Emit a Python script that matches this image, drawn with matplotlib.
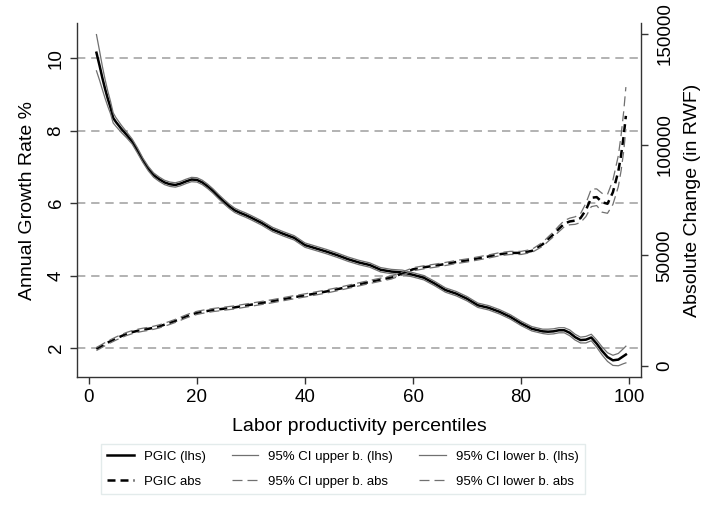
import matplotlib
matplotlib.use("Agg")
import matplotlib.pyplot as plt
from matplotlib.lines import Line2D

plt.rcParams['font.family'] = ['Liberation Sans', 'DejaVu Sans']

# percentiles
pct = [1.4, 2, 2.5, 3, 3.5, 4, 4.5, 5, 6, 7, 8, 9, 10,
       11, 12, 13, 14, 15, 16, 17, 18, 19, 20, 21, 22, 23, 24, 25, 26, 27, 28, 29, 30,
       32, 34, 36, 38, 40, 42, 44, 46, 48, 50, 52, 54, 56, 58, 60, 62, 64, 66, 68, 70,
       72, 74, 76, 78, 80, 82,
       84, 85, 86, 87, 88, 89, 90, 91, 92, 93, 94, 95, 96, 97, 98, 98.5, 99, 99.4]

# growth rate (lhs, %)
pgic = [10.15, 9.78, 9.45, 9.15, 8.88, 8.64, 8.35, 8.24, 8.05, 7.88, 7.70, 7.45, 7.18,
        6.95, 6.77, 6.66, 6.57, 6.52, 6.50, 6.54, 6.60, 6.65, 6.64, 6.57, 6.46, 6.33, 6.18, 6.04, 5.91, 5.80, 5.73, 5.67, 5.60,
        5.45, 5.27, 5.15, 5.04, 4.84, 4.75, 4.66, 4.56, 4.45, 4.36, 4.29, 4.16, 4.11, 4.09, 4.02, 3.94, 3.78, 3.60, 3.50, 3.36,
        3.18, 3.11, 3.00, 2.86, 2.68, 2.53,
        2.46, 2.45, 2.46, 2.49, 2.49, 2.42, 2.30, 2.22, 2.23, 2.29, 2.12, 1.92, 1.75, 1.66, 1.68, 1.73, 1.78, 1.82]
pgic_upper = [10.65, 10.18, 9.77, 9.41, 9.09, 8.81, 8.49, 8.36, 8.15, 7.96, 7.77, 7.52, 7.24,
              7.01, 6.83, 6.72, 6.63, 6.58, 6.56, 6.60, 6.66, 6.71, 6.70, 6.63, 6.52, 6.39, 6.24, 6.10, 5.97, 5.86, 5.79, 5.73, 5.66,
              5.51, 5.33, 5.21, 5.10, 4.90, 4.81, 4.72, 4.62, 4.51, 4.42, 4.35, 4.22, 4.17, 4.15, 4.08, 4.00, 3.84, 3.66, 3.56, 3.42,
              3.24, 3.17, 3.06, 2.92, 2.74, 2.59,
              2.52, 2.52, 2.53, 2.56, 2.56, 2.50, 2.38, 2.30, 2.32, 2.38, 2.22, 2.03, 1.87, 1.80, 1.85, 1.92, 1.99, 2.05]
pgic_lower = [9.65, 9.38, 9.13, 8.89, 8.67, 8.47, 8.21, 8.12, 7.95, 7.80, 7.63, 7.38, 7.12,
              6.89, 6.71, 6.60, 6.51, 6.46, 6.44, 6.48, 6.54, 6.59, 6.58, 6.51, 6.40, 6.27, 6.12, 5.98, 5.85, 5.74, 5.67, 5.61, 5.54,
              5.39, 5.21, 5.09, 4.98, 4.78, 4.69, 4.60, 4.50, 4.39, 4.30, 4.23, 4.10, 4.05, 4.03, 3.96, 3.88, 3.72, 3.54, 3.44, 3.30,
              3.12, 3.05, 2.94, 2.80, 2.62, 2.47,
              2.40, 2.38, 2.39, 2.42, 2.42, 2.34, 2.22, 2.14, 2.14, 2.20, 2.02, 1.81, 1.63, 1.52, 1.51, 1.54, 1.57, 1.59]

# absolute change (rhs, RWF)
pgic_abs = [7700, 8500, 9200, 9900, 10600, 11200, 11800, 12400, 13500, 14500, 15300, 15900, 16400,
            16800, 17300, 17900, 18700, 19500, 20400, 21400, 22400, 23300, 24000, 24500, 24900, 25300, 25600, 25900, 26200, 26500, 26900, 27300, 27700,
            28500, 29300, 30200, 31100, 31900, 32800, 33700, 34700, 35800, 36900, 38000, 39000, 40000, 41800, 43700, 44600, 45300, 46100, 47000, 47700,
            48600, 49500, 50500, 51100, 51100, 52000,
            55000, 57300, 59500, 62000, 64300, 65300, 65700, 66800, 70500, 76000, 76300, 74000, 73300, 78500, 88000, 95000, 104000, 113000]
abs_upper = [8400, 9200, 9900, 10600, 11300, 11900, 12500, 13100, 14200, 15200, 16000, 16600, 17100,
             17500, 18000, 18600, 19400, 20200, 21100, 22100, 23100, 24000, 24700, 25200, 25600, 26000, 26300, 26600, 26900, 27200, 27600, 28000, 28400,
             29200, 30000, 30900, 31800, 32600, 33500, 34400, 35400, 36500, 37600, 38700, 39700, 40700, 42500, 44400, 45300, 46000, 46800, 47700, 48400,
             49300, 50200, 51200, 51800, 51800, 52700,
             55900, 58300, 60600, 63300, 65700, 66800, 67400, 68800, 73500, 80000, 80000, 78000, 77500, 84000, 95000, 104000, 115000, 126000]
abs_lower = [7000, 7800, 8500, 9200, 9900, 10500, 11100, 11700, 12800, 13800, 14600, 15200, 15700,
             16100, 16600, 17200, 18000, 18800, 19700, 20700, 21700, 22600, 23300, 23800, 24200, 24600, 24900, 25200, 25500, 25800, 26200, 26600, 27000,
             27800, 28600, 29500, 30400, 31200, 32100, 33000, 34000, 35100, 36200, 37300, 38300, 39300, 41100, 43000, 43900, 44600, 45400, 46300, 47000,
             47900, 48800, 49800, 50400, 50400, 51300,
             54100, 56300, 58400, 60700, 62900, 63800, 64000, 64800, 67500, 72000, 72500, 69500, 69000, 73000, 81000, 88000, 97000, 107000]

xticks = [0, 20, 40, 60, 80, 100]
lticks = [2, 4, 6, 8, 10]
rticks = [0, 50000, 100000, 150000]

labels = ["PGIC (lhs)", "95% CI upper b. (lhs)", "95% CI lower b. (lhs)",
          "PGIC abs", "95% CI upper b. abs", "95% CI lower b. abs"]

fig = plt.figure(figsize=(7.16, 5.22), dpi=100)
ax = fig.add_axes([77/716, 1-377/522, (641-77)/716, (377-23)/522])
ax2 = ax.twinx()

spine_c = '#333333'
gray = '#707070'

ax.set_xlim(-2.2, 102.2)
ax.set_ylim(1.2, 10.97)
ax2.set_ylim(-4950, 154950)

for t in lticks:
    ax.axhline(t, color='#a5a5a5', lw=1.2, dashes=(5, 3.5), zorder=0)

# lhs lines
ax.plot(pct, pgic, color='black', lw=1.8, zorder=2)
ax.plot(pct, pgic_upper, color=gray, lw=0.9, zorder=3)
ax.plot(pct, pgic_lower, color=gray, lw=0.9, zorder=3)

# rhs lines
ax2.plot(pct, pgic_abs, color='black', lw=1.8, dashes=(3.2, 2))
ax2.plot(pct, abs_upper, color=gray, lw=0.9, dashes=(8, 4))
ax2.plot(pct, abs_lower, color=gray, lw=0.9, dashes=(8, 4))

for a in (ax, ax2):
    a.spines['top'].set_visible(False)
    for s in a.spines.values():
        s.set_color(spine_c)
        s.set_linewidth(1.0)
ax.spines['right'].set_visible(False)
ax2.spines['left'].set_visible(False)
ax2.spines['bottom'].set_visible(False)

ax.set_xticks(xticks)
ax.set_yticks(lticks)
ax2.set_yticks(rticks)
ax.tick_params(axis='both', direction='out', length=5, width=1, color=spine_c,
               labelsize=13.5, pad=4)
ax2.tick_params(axis='y', direction='out', length=5, width=1, color=spine_c,
                labelsize=13.5, pad=6)
for lab in ax.get_yticklabels():
    lab.set_rotation(90)
    lab.set_va('center')
for lab in ax2.get_yticklabels():
    lab.set_rotation(90)
    lab.set_va('center')

ax.set_xlabel("Labor productivity percentiles", fontsize=14, labelpad=8)
ax.set_ylabel("Annual Growth Rate %", fontsize=14, labelpad=8)
ax2.set_ylabel("Absolute Change (in RWF)", fontsize=14, labelpad=8)

handles = [
    Line2D([], [], color='black', lw=1.8),
    Line2D([], [], color='black', lw=1.8, dashes=(3.2, 2)),
    Line2D([], [], color=gray, lw=0.9),
    Line2D([], [], color=gray, lw=0.9, dashes=(8, 4)),
    Line2D([], [], color=gray, lw=0.9),
    Line2D([], [], color=gray, lw=0.9, dashes=(8, 4)),
]
leg_labels = [labels[0], labels[3], labels[1], labels[4], labels[2], labels[5]]
leg = fig.legend(handles, leg_labels, ncol=3, loc='center',
                 bbox_to_anchor=(343/716, 1-469/522), fontsize=9.5,
                 frameon=True, fancybox=False, edgecolor='#dce6e6',
                 handlelength=2.0, handletextpad=0.75, columnspacing=2.0,
                 labelspacing=0.95, borderpad=0.5)
leg.get_frame().set_linewidth(1.0)

fig.savefig("out.png", dpi=100)
